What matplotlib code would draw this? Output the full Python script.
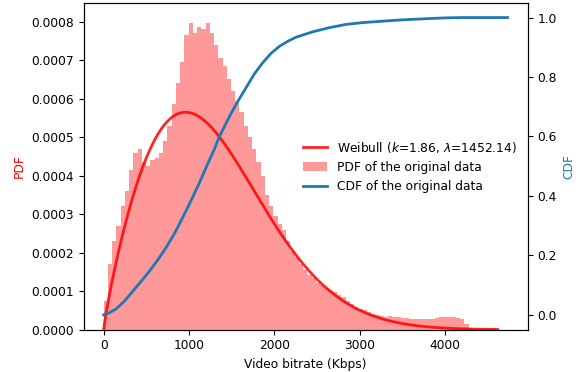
import numpy as np
import matplotlib
matplotlib.use("Agg")
import matplotlib.pyplot as plt

# ---------------- data ----------------
# histogram of the original data (density), 50-Kbps-ish bins from 0 to max bitrate
x_max = 4726
hist_density = [
    0.75, 1.70, 2.30, 2.70, 3.20, 3.60, 4.15, 4.60, 4.70, 4.35,
    4.25, 4.40, 4.45, 4.60, 4.90, 5.30, 5.85, 6.40, 6.95, 7.65,
    7.95, 7.70, 7.85, 7.80, 7.95, 7.70, 7.40, 7.05, 6.85, 6.50,
    6.20, 5.95, 5.65, 5.30, 5.00, 4.70, 4.35, 4.00, 3.50, 3.20,
    2.95, 2.75, 2.60, 2.30, 2.05, 1.90, 1.70, 1.55, 1.42, 1.35,
    1.22, 1.15, 1.08, 1.03, 0.97, 0.90, 0.85, 0.75, 0.68, 0.60,
    0.55, 0.50, 0.45, 0.42, 0.38, 0.36, 0.34, 0.35, 0.33, 0.32,
    0.30, 0.30, 0.29, 0.28, 0.28, 0.27, 0.28, 0.29, 0.30, 0.32,
    0.34, 0.33, 0.32, 0.31, 0.28, 0.15, 0.04, 0.02, 0.015, 0.01,
    0.01, 0.01, 0.005, 0.003, 0.002,
]
hist_density = [v * 1e-4 for v in hist_density]

# empirical CDF of the original data
cdf_x = [0, 60, 145, 240, 340, 440, 536, 635, 731, 830, 926, 1025, 1122,
         1210, 1297, 1357, 1490, 1580, 1669, 1765, 1864, 1960, 2059, 2157,
         2255, 2450, 2645, 2840, 3035, 3230, 3426, 3620, 3817, 4010, 4207, 4734]
cdf_y = [0.0, 0.006, 0.020, 0.045, 0.079, 0.113, 0.147, 0.185, 0.226, 0.274,
         0.327, 0.385, 0.444, 0.502, 0.557, 0.600, 0.676, 0.722, 0.764, 0.810,
         0.848, 0.879, 0.903, 0.920, 0.934, 0.952, 0.966, 0.977, 0.983, 0.987,
         0.991, 0.994, 0.9966, 0.999, 1.0, 1.0]

# fitted Weibull parameters (from legend)
weib_k = 1.86
weib_lam = 1452.14
weib_x_end = 4617

# ---------------- plotting ----------------
plt.rcParams['font.family'] = ['DejaVu Sans']
fs = 8.8
fig = plt.figure(figsize=(5.79, 3.72), dpi=100)
ax = fig.add_axes([83.5 / 579, (372 - 329.7) / 372,
                   (527.7 - 83.5) / 579, (329.7 - 2.7) / 372])

edges = np.linspace(0, x_max, len(hist_density) + 1)
bars = ax.bar(edges[:-1], hist_density, width=np.diff(edges), align='edge',
              color='red', alpha=0.4, linewidth=0,
              label='PDF of the original data')

xw = np.linspace(0, weib_x_end, 500)
pdf_w = (weib_k / weib_lam) * (xw / weib_lam) ** (weib_k - 1) * np.exp(-(xw / weib_lam) ** weib_k)
lw_line, = ax.plot(xw, pdf_w, color='red', alpha=0.85, lw=2,
                   label=r'Weibull ($k$=1.86, $\lambda$=1452.14)')

ax.set_ylim(0, 0.000849)
ax.set_xlabel('Video bitrate (Kbps)', fontsize=fs)
ax.set_ylabel('PDF', color='red', fontsize=fs)
ax.tick_params(labelsize=fs)
ax.set_xticks([0, 1000, 2000, 3000, 4000])

ax2 = ax.twinx()
cdf_line, = ax2.plot(cdf_x, cdf_y, color='tab:blue', lw=2,
                     label='CDF of the original data')
ax2.set_ylabel('CDF', color='tab:blue', fontsize=fs)
ax2.tick_params(labelsize=fs)
ax2.set_yticks([0.0, 0.2, 0.4, 0.6, 0.8, 1.0])

ax2.legend([lw_line, bars, cdf_line],
           [lw_line.get_label(), 'PDF of the original data', cdf_line.get_label()],
           loc='center right', frameon=False, fontsize=fs)

fig.savefig('out.png', dpi=100)
